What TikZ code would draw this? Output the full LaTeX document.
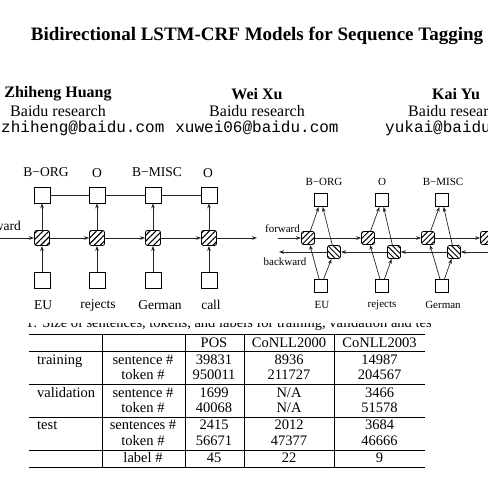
\documentclass[tikz,border=0pt]{standalone}
\usepackage{fontspec}
\setmainfont{Liberation Serif}
\setmonofont{Liberation Mono}
\usetikzlibrary{patterns.meta,arrows.meta}
\begin{document}
\begin{tikzpicture}[x=1pt,y=-1pt,
  bigbox/.style={draw,line width=0.8pt,minimum size=16pt,inner sep=0pt},
  smallbox/.style={draw,line width=0.7pt,minimum size=13pt,inner sep=0pt},
  fcellL/.style={draw,line width=0.8pt,rounded corners=2pt,minimum size=15pt,inner sep=0pt,
     pattern={Lines[angle=45,distance=4.2pt,line width=1.1pt]}},
  fcellR/.style={draw,line width=0.7pt,rounded corners=2pt,minimum size=13pt,inner sep=0pt,
     pattern={Lines[angle=45,distance=3.8pt,line width=1pt]}},
  bcellR/.style={draw,line width=0.7pt,rounded corners=2pt,minimum size=13pt,inner sep=0pt,
     pattern={Lines[angle=-45,distance=3.8pt,line width=1pt]}},
  arr/.style={line width=0.7pt,black!85,-{Stealth[length=5pt,width=3.6pt]}},
  plain/.style={line width=0.7pt,black!85},
  labL/.style={font=\fontsize{13.5}{15}\selectfont,inner sep=0pt},
  labR/.style={font=\fontsize{11}{13}\selectfont,inner sep=0pt},
  ttext/.style={font=\fontsize{14.5}{16}\selectfont,inner sep=0pt,anchor=base},
  tline/.style={line width=0.8pt},
  author/.style={font=\fontsize{16}{18}\selectfont,inner sep=0pt}
]
\useasboundingbox (0,0) rectangle (488,482);
\clip (0,0) rectangle (488,482);
\fill[white] (0,0) rectangle (488,482);

% ---------- title and authors ----------
\node[font=\bfseries\fontsize{19}{22}\selectfont,inner sep=0pt] (title) at (257,36) {Bidirectional LSTM-CRF Models for Sequence Tagging};

\node[author,font=\bfseries\fontsize{16}{18}\selectfont] (a1) at (58,94) {Zhiheng Huang};
\node[author] (af1) at (58,111) {Baidu research};
\node[author,anchor=west,font=\ttfamily\fontsize{16}{18}\selectfont] (ae1) at (1,128) {zhiheng@baidu.com};

\node[author,font=\bfseries\fontsize{16}{18}\selectfont] (a2) at (257,94) {Wei Xu};
\node[author] (af2) at (257,111) {Baidu research};
\node[author,font=\ttfamily\fontsize{16}{18}\selectfont] (ae2) at (257,128) {xuwei06@baidu.com};

\node[author,font=\bfseries\fontsize{16}{18}\selectfont] (a3) at (456,94) {Kai Yu};
\node[author] (af3) at (456,111) {Baidu research};
\node[author,anchor=west,font=\ttfamily\fontsize{16}{18}\selectfont] (ae3) at (385,128) {yukai@baidu.com};

% ---------- left diagram ----------
\foreach \i/\x in {1/42,2/97,3/153,4/209}{
  \node[bigbox] (tl\i) at (\x,195) {};
  \node[fcellL] (hl\i) at (\x,238) {};
  \node[bigbox] (bl\i) at (\x,280) {};
}
\node[labL] (lt1) at (46,172) {B−ORG};
\node[labL] (lt2) at (97,173) {O};
\node[labL] (lt3) at (157,172) {B−MISC};
\node[labL] (lt4) at (208,173) {O};
\node[labL] (lw1) at (43,305) {EU};
\node[labL] (lw2) at (98,305) {rejects};
\node[labL] (lw3) at (160,305) {German};
\node[labL] (lw4) at (211,305) {call};
\node[labL,anchor=east] (lfw) at (21,226) {forward};
\coordinate (lstart) at (-5,238);
\coordinate (lend) at (257,238);
\draw[plain] (tl1) -- (tl2) -- (tl3) -- (tl4);
\foreach \i in {1,2,3,4}{
  \draw[arr] (bl\i) -- (hl\i);
  \draw[arr] (hl\i) -- (tl\i);
}
\draw[arr] (lstart) -- (hl1);
\draw[arr] (hl1) -- (hl2);
\draw[arr] (hl2) -- (hl3);
\draw[arr] (hl3) -- (hl4);
\draw[arr] (hl4) -- (lend);

% ---------- right diagram ----------
\foreach \i/\x in {1/321,2/382,3/442}{
  \node[smallbox] (tr\i) at (\x,200) {};
  \node[smallbox] (br\i) at (\x,286) {};
}
\foreach \i/\x in {1/308,2/368,3/428,4/487}{
  \node[fcellR] (fr\i) at (\x,238) {};
}
\foreach \i/\x in {1/334,2/394,3/454}{
  \node[bcellR] (kr\i) at (\x,252) {};
}
\node[labR] (rt1) at (324,182) {B−ORG};
\node[labR] (rt2) at (382,182) {O};
\node[labR] (rt3) at (443,182) {B−MISC};
\node[labR] (rw1) at (322,305) {EU};
\node[labR] (rw2) at (382,305) {rejects};
\node[labR] (rw3) at (443,305) {German};
\node[labR] (rfw) at (282.5,229) {forward};
\node[labR] (rbw) at (285,262) {backward};
\coordinate (fstart) at (278,238);
\coordinate (bend) at (279,252);
\coordinate (bstart) at (500,252);
\draw[arr] (fstart) -- (fr1);
\draw[arr] (fr1) -- (fr2);
\draw[arr] (fr2) -- (fr3);
\draw[arr] (fr3) -- (fr4);
\draw[arr] (bstart) -- (kr3);
\draw[arr] (kr3) -- (kr2);
\draw[arr] (kr2) -- (kr1);
\draw[arr] (kr1) -- (bend);
\foreach \i in {1,2,3}{
  \draw[arr] (br\i) -- (fr\i);
  \draw[arr] (br\i) -- (kr\i);
  \draw[arr] (fr\i) -- (tr\i);
  \draw[arr] (kr\i) -- (tr\i);
}

% ---------- table caption (cut) ----------
\begin{scope}
  \clip (26,323.5) rectangle (430,335);
  \node[anchor=base west,font=\fontsize{14.5}{16}\selectfont,inner sep=0pt] (cap) at (26,327.5)
    {1: Size of sentences, tokens, and labels for training, validation and test sets.};
\end{scope}

% ---------- table ----------
\foreach \y in {334,351,384,417,450,467}{
  \draw[tline] (29,\y) -- (425,\y);
}
\foreach \x in {102,185,244,334}{
  \draw[tline] (\x,334) -- (\x,467);
}
\node[ttext] (h1) at (214,347) {POS};
\node[ttext] (h2) at (289,347) {CoNLL2000};
\node[ttext] (h3) at (379.5,347) {CoNLL2003};

\node[ttext,anchor=base west] (g1) at (37,364) {training};
\node[ttext,anchor=base west] (g2) at (37,397) {validation};
\node[ttext,anchor=base west] (g3) at (37,429) {test};

\node[ttext] (s1) at (143,364) {sentence \#};
\node[ttext] (s2) at (143,379) {token \#};
\node[ttext] (s3) at (143,397) {sentence \#};
\node[ttext] (s4) at (143,412) {token \#};
\node[ttext] (s5) at (143,429) {sentences \#};
\node[ttext] (s6) at (143,445) {token \#};
\node[ttext] (s7) at (143,462) {label \#};

\node[ttext] (p1) at (214,364) {39831};
\node[ttext] (p2) at (214,379) {950011};
\node[ttext] (p3) at (214,397) {1699};
\node[ttext] (p4) at (214,412) {40068};
\node[ttext] (p5) at (214,429) {2415};
\node[ttext] (p6) at (214,445) {56671};
\node[ttext] (p7) at (214,462) {45};

\node[ttext] (c1) at (289,364) {8936};
\node[ttext] (c2) at (289,379) {211727};
\node[ttext] (c3) at (289,397) {N/A};
\node[ttext] (c4) at (289,412) {N/A};
\node[ttext] (c5) at (289,429) {2012};
\node[ttext] (c6) at (289,445) {47377};
\node[ttext] (c7) at (289,462) {22};

\node[ttext] (d1) at (379.5,364) {14987};
\node[ttext] (d2) at (379.5,379) {204567};
\node[ttext] (d3) at (379.5,397) {3466};
\node[ttext] (d4) at (379.5,412) {51578};
\node[ttext] (d5) at (379.5,429) {3684};
\node[ttext] (d6) at (379.5,445) {46666};
\node[ttext] (d7) at (379.5,462) {9};
\end{tikzpicture}
\end{document}
